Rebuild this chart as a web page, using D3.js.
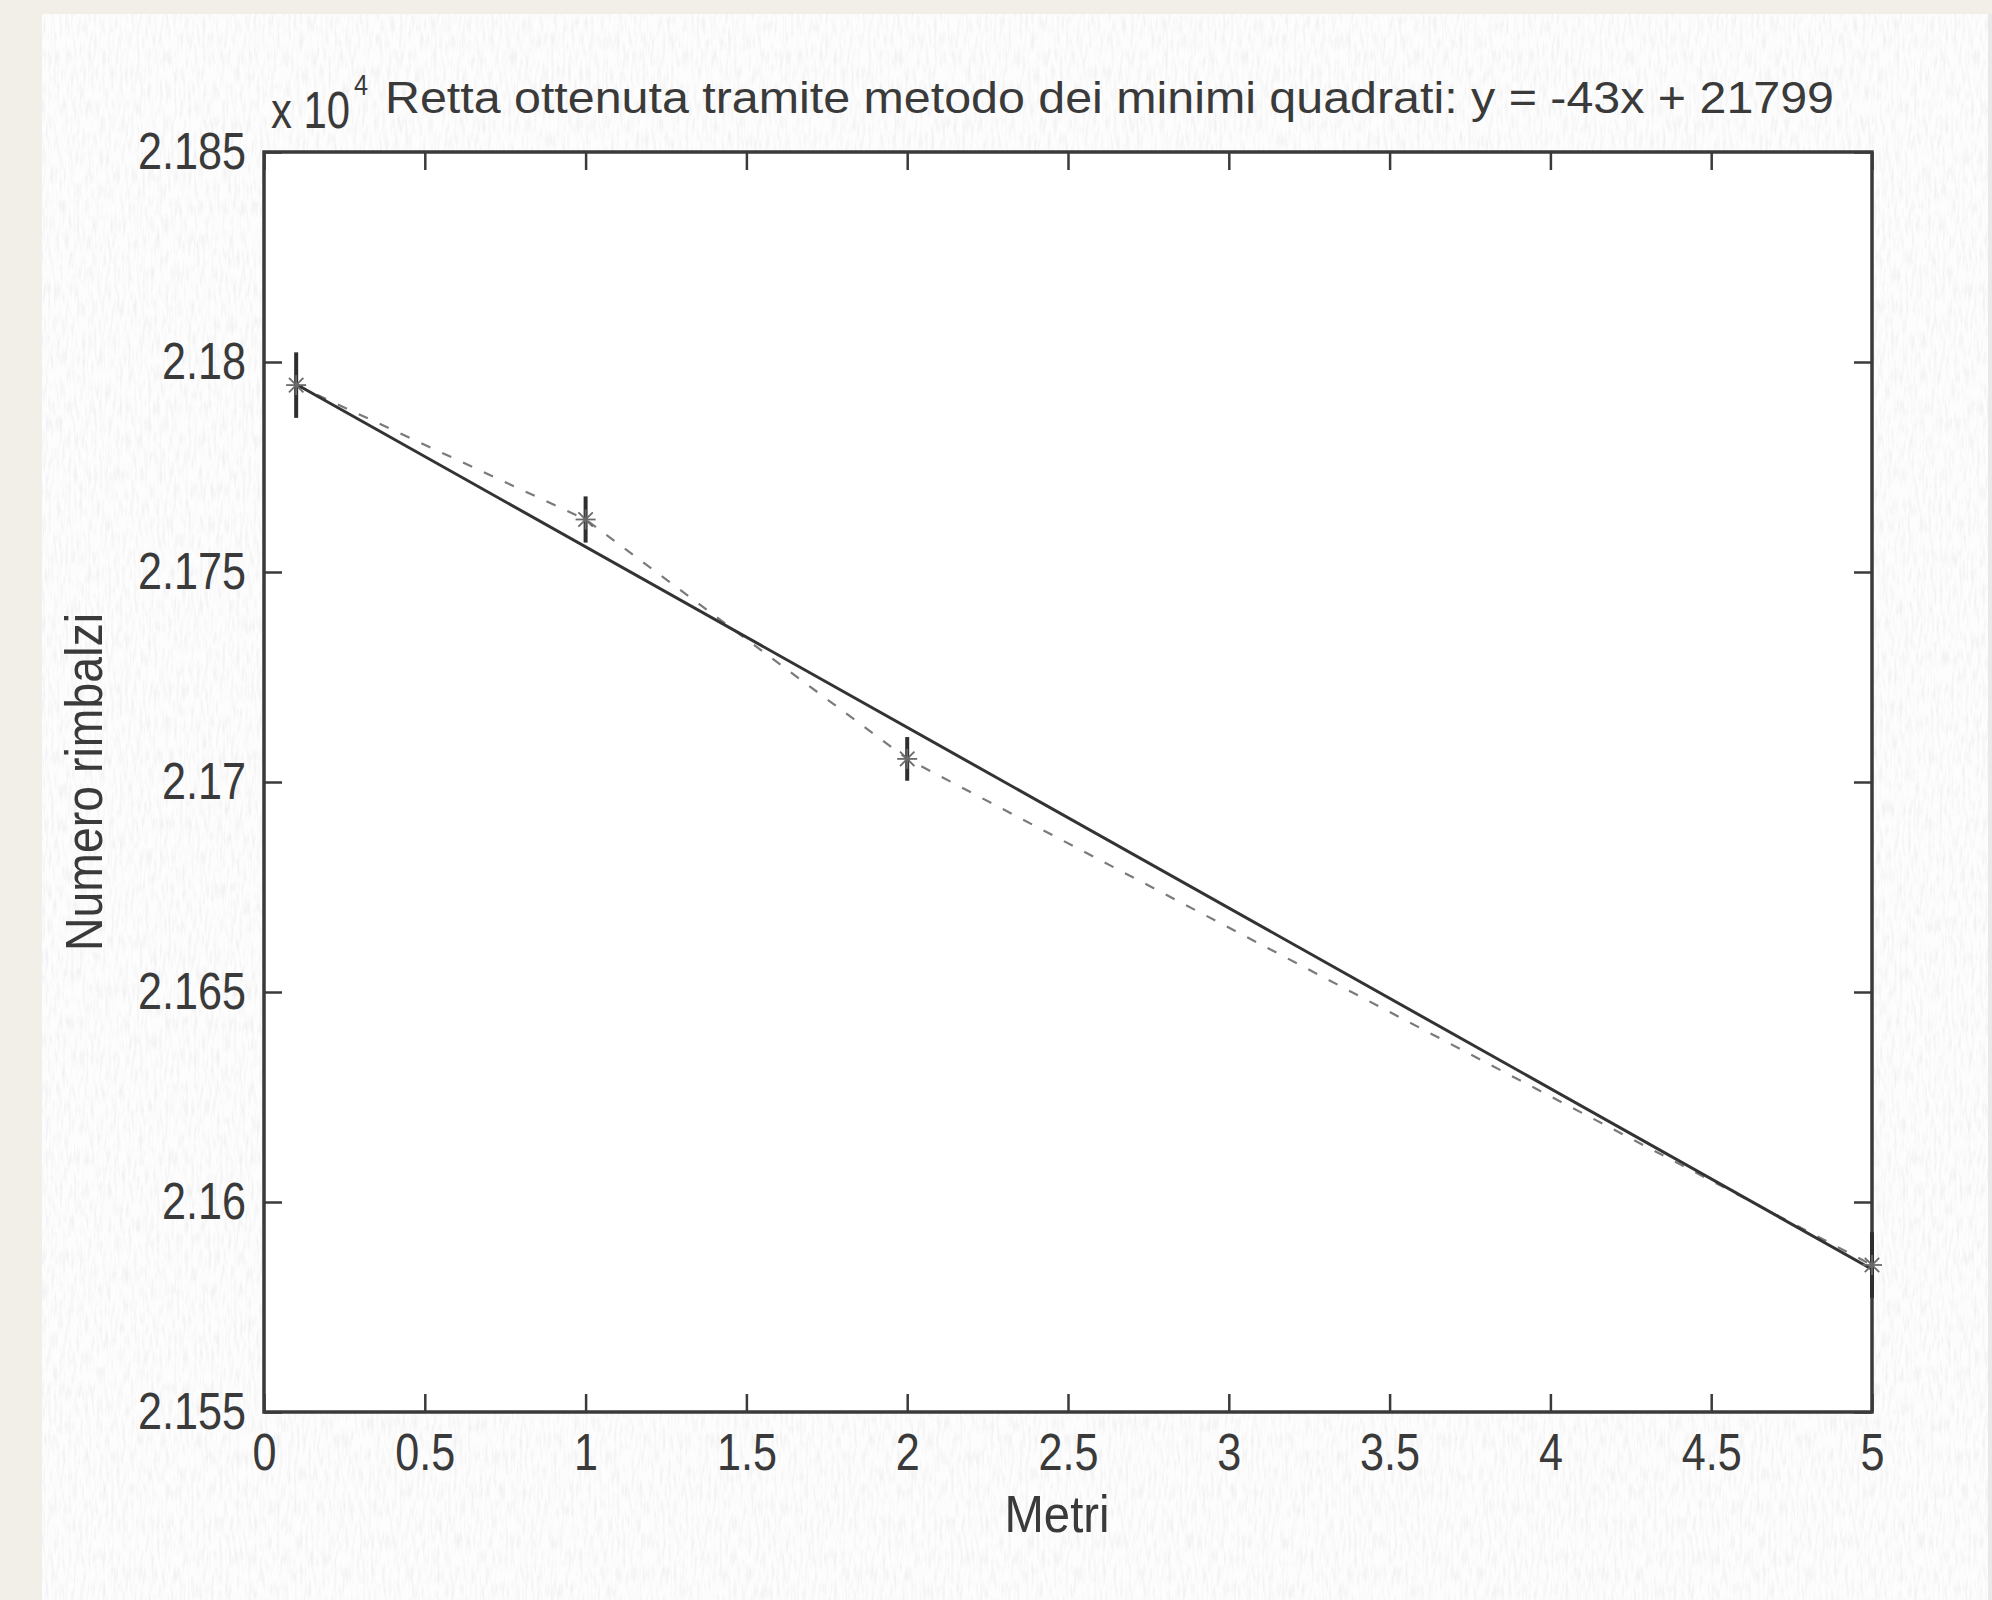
<!DOCTYPE html>
<html>
<head>
<meta charset="utf-8">
<script src="https://cdn.jsdelivr.net/npm/d3@7"></script>
<style>
  html, body { margin: 0; padding: 0; background: #ffffff; }
  svg { display: block; }
  .lbl { font-family: "Liberation Sans Narrow", "Arial Narrow", "Liberation Sans", Arial, sans-serif; fill: #3a3a3a; }
</style>
</head>
<body>
<svg id="chart" width="1992" height="1600"></svg>
<script>
// Measurements: distance (metres) vs. number of bounces
const metri = [0.1, 1, 2, 5];
const rimbalzi = [21794.5, 21762.5, 21705.5, 21585];
const errori = [7.8, 5.5, 5.2, 7.8];

// Least-squares line as stated in the title
const fitSlope = -43;
const fitIntercept = 21799;

const xTicks = [0, 0.5, 1, 1.5, 2, 2.5, 3, 3.5, 4, 4.5, 5];
const yTicks = [21550, 21600, 21650, 21700, 21750, 21800, 21850];

const titolo = "Retta ottenuta tramite metodo dei minimi quadrati: y = -43x + 21799";
const xLabel = "Metri";
const yLabel = "Numero rimbalzi";

const svg = d3.select("#chart");
const W = 1992, H = 1600;
const plot = { left: 264, right: 1872, top: 152, bottom: 1412 };

// condensed glyph widths for the narrow axis lettering
const narrowWidth = str => Array.from(str).reduce((w, c) => w + (c === "." ? 12 : 24), 0);

// faint paper grain
const defs = svg.append("defs");
const grain = defs.append("filter").attr("id", "grain").attr("x", 0).attr("y", 0).attr("width", "100%").attr("height", "100%");
grain.append("feTurbulence").attr("type", "fractalNoise").attr("baseFrequency", "0.35 0.06").attr("numOctaves", 2).attr("seed", 7);
grain.append("feColorMatrix").attr("type", "matrix")
  .attr("values", "0 0 0 0 0.55  0 0 0 0 0.55  0 0 0 0 0.6  0 0 0 -2.2 1.25");

// page background: scanned sheet with beige edges
svg.append("rect").attr("x", 0).attr("y", 0).attr("width", W).attr("height", H).attr("fill", "#fdfdfd");
svg.append("rect").attr("x", 42).attr("y", 14).attr("width", W - 42).attr("height", H - 14)
  .attr("filter", "url(#grain)").attr("opacity", 0.22);
svg.append("rect").attr("x", 0).attr("y", 0).attr("width", W).attr("height", 14).attr("fill", "#f2efe9");
svg.append("rect").attr("x", 0).attr("y", 0).attr("width", 42).attr("height", H).attr("fill", "#f2efe9");
svg.append("rect").attr("x", 1988).attr("y", 14).attr("width", 4).attr("height", H - 14).attr("fill", "#e9e9ea");

const x = d3.scaleLinear().domain([0, 5]).range([plot.left, plot.right]);
const y = d3.scaleLinear().domain([21550, 21850]).range([plot.bottom, plot.top]);

// plot area
svg.append("rect")
  .attr("x", plot.left).attr("y", plot.top)
  .attr("width", plot.right - plot.left).attr("height", plot.bottom - plot.top)
  .attr("fill", "#ffffff");

const axisColor = "#3a3a3a";
const fmtX = d => String(d);
const fmtY = d => String(+(d / 1e4).toFixed(3));

function styleAxis(g) {
  g.select(".domain").remove();
  g.selectAll(".tick line").attr("stroke", axisColor).attr("stroke-width", 2.5);
  g.selectAll(".tick text").attr("class", "lbl").attr("font-size", 52).attr("fill", axisColor)
    .attr("textLength", function () { return narrowWidth(this.textContent); })
    .attr("lengthAdjust", "spacingAndGlyphs");
}

svg.append("g").attr("transform", `translate(0,${plot.bottom})`)
  .call(d3.axisBottom(x).tickValues(xTicks).tickFormat(fmtX).tickSizeInner(-18).tickSizeOuter(0).tickPadding(21))
  .call(styleAxis);
svg.append("g").attr("transform", `translate(0,${plot.top})`)
  .call(d3.axisTop(x).tickValues(xTicks).tickFormat("").tickSizeInner(-18).tickSizeOuter(0))
  .call(styleAxis);
svg.append("g").attr("transform", `translate(${plot.left},0)`)
  .call(d3.axisLeft(y).tickValues(yTicks).tickFormat(fmtY).tickSizeInner(-18).tickSizeOuter(0).tickPadding(18))
  .call(styleAxis);
svg.append("g").attr("transform", `translate(${plot.right},0)`)
  .call(d3.axisRight(y).tickValues(yTicks).tickFormat("").tickSizeInner(-18).tickSizeOuter(0))
  .call(styleAxis);

// box
svg.append("rect")
  .attr("x", plot.left).attr("y", plot.top)
  .attr("width", plot.right - plot.left).attr("height", plot.bottom - plot.top)
  .attr("fill", "none").attr("stroke", axisColor).attr("stroke-width", 3.5);

const pts = metri.map((m, i) => ({ m, r: rimbalzi[i], e: errori[i] }));

// dashed line joining the measurements
svg.append("path")
  .datum(pts)
  .attr("d", d3.line().x(d => x(d.m)).y(d => y(d.r)))
  .attr("fill", "none").attr("stroke", "#7a7a7a").attr("stroke-width", 2.2)
  .attr("stroke-dasharray", "10,13");

// fitted line
const xs = d3.extent(metri);
svg.append("path")
  .datum(xs.map(v => ({ m: v, r: fitSlope * v + fitIntercept })))
  .attr("d", d3.line().x(d => x(d.m)).y(d => y(d.r)))
  .attr("fill", "none").attr("stroke", "#333333").attr("stroke-width", 3);

// error bars
svg.append("g").selectAll("line")
  .data(pts).join("line")
  .attr("x1", d => x(d.m)).attr("x2", d => x(d.m))
  .attr("y1", d => y(d.r - d.e)).attr("y2", d => y(d.r + d.e))
  .attr("stroke", "#2e2e2e").attr("stroke-width", 4);

// asterisk markers
const s = 10;
const star = svg.append("g").selectAll("g").data(pts).join("g")
  .attr("transform", d => `translate(${x(d.m)},${y(d.r)})`);
[[-s, 0, s, 0], [0, -s, 0, s], [-s * 0.72, -s * 0.72, s * 0.72, s * 0.72], [-s * 0.72, s * 0.72, s * 0.72, -s * 0.72]]
  .forEach(([a, b, c, dd]) => {
    star.append("line").attr("x1", a).attr("y1", b).attr("x2", c).attr("y2", dd)
      .attr("stroke", "#6a6a6a").attr("stroke-width", 1.8);
  });

// exponent label (x 10^4), one text with a raised tspan
const ex = svg.append("text").attr("class", "lbl").attr("x", 271).attr("y", 128).attr("font-size", 52);
ex.append("tspan").attr("textLength", 79).attr("lengthAdjust", "spacingAndGlyphs").text("x 10");
ex.append("tspan").attr("x", 354).attr("y", 95).attr("font-size", 30)
  .attr("textLength", 14).attr("lengthAdjust", "spacingAndGlyphs").text("4");

// title
svg.append("text").attr("class", "lbl")
  .attr("x", 385).attr("y", 113).attr("font-size", 44)
  .attr("textLength", 1449).attr("lengthAdjust", "spacingAndGlyphs")
  .text(titolo);

// axis labels
svg.append("text").attr("class", "lbl")
  .attr("x", 1057).attr("y", 1532)
  .attr("text-anchor", "middle").attr("font-size", 52)
  .attr("textLength", 105).attr("lengthAdjust", "spacingAndGlyphs")
  .text(xLabel);

svg.append("text").attr("class", "lbl")
  .attr("transform", `translate(102,${(plot.top + plot.bottom) / 2}) rotate(-90)`)
  .attr("text-anchor", "middle").attr("font-size", 52)
  .attr("textLength", 338).attr("lengthAdjust", "spacingAndGlyphs")
  .text(yLabel);
</script>
</body>
</html>
